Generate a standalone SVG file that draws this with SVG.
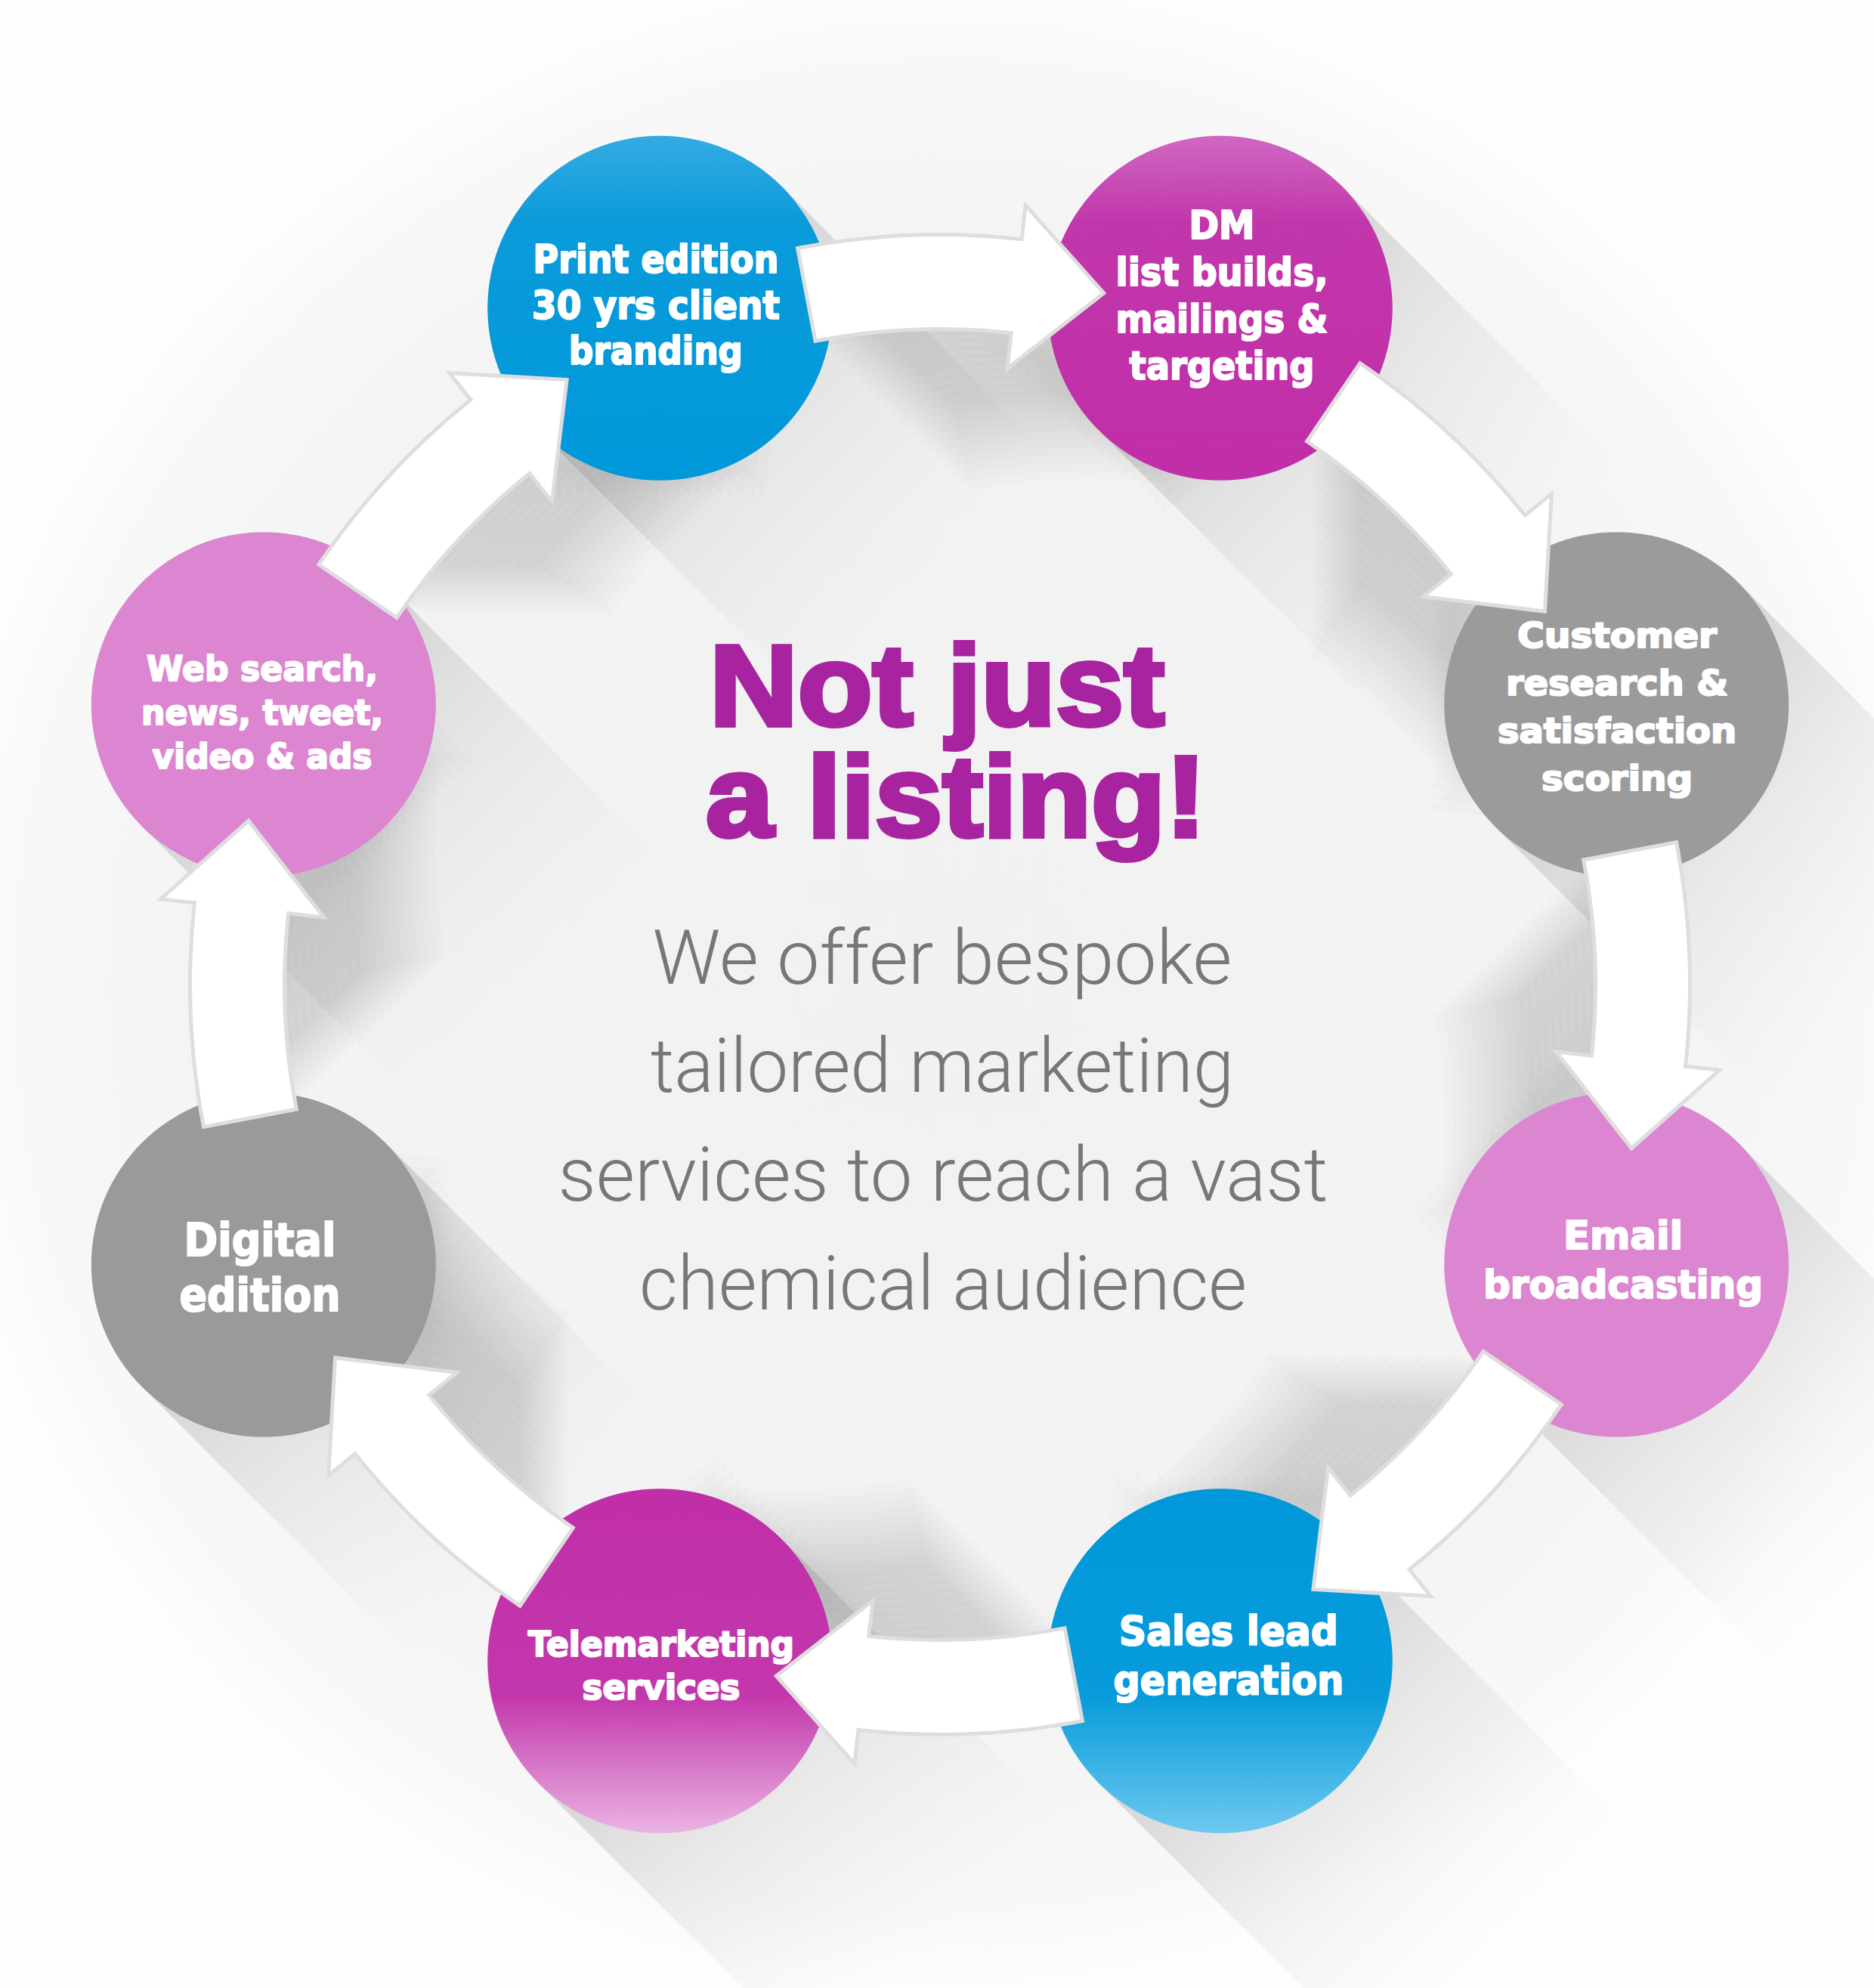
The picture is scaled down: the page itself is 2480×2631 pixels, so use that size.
<svg xmlns="http://www.w3.org/2000/svg" xmlns:xlink="http://www.w3.org/1999/xlink" width="2480" height="2631" viewBox="0 0 2480 2631">
<style>
.lbl{font-family:"DejaVu Sans","Liberation Sans",sans-serif;font-weight:bold;fill:#ffffff;stroke:#ffffff;stroke-width:2.2;stroke-linejoin:round;text-anchor:middle}
.title{font-family:"Liberation Sans","Arial",sans-serif;font-weight:bold;fill:#a8239f;stroke:#a8239f;stroke-width:6;stroke-linejoin:miter;text-anchor:middle;font-size:152px}
.body{font-family:Roboto,"Liberation Sans",sans-serif;font-weight:300;fill:#777777;text-anchor:middle;font-size:101px}
.arrow{fill:#ffffff;stroke:#dedede;stroke-width:10;paint-order:stroke;stroke-linejoin:miter}
.ash{fill:#6a6a6a;opacity:0.018}
.csh{fill:url(#shadowGrad)}
</style>
<defs>
<radialGradient id="bgGrad" cx="1244" cy="1303" r="1330" gradientUnits="userSpaceOnUse">
<stop offset="0" stop-color="#f1f1f1"/>
<stop offset="0.7" stop-color="#f3f3f3"/>
<stop offset="0.92" stop-color="#f8f8f8"/>
<stop offset="1" stop-color="#fdfdfd"/>
</radialGradient>
<linearGradient id="shadowGrad" x1="0" y1="0" x2="1" y2="0">
<stop offset="0" stop-color="#b9b9b9" stop-opacity="0.6"/>
<stop offset="0.5" stop-color="#cfcfcf" stop-opacity="0.3"/>
<stop offset="1" stop-color="#e0e0e0" stop-opacity="0"/>
</linearGradient>
<linearGradient id="blueTop" x1="0" y1="0" x2="0" y2="1">
<stop offset="0" stop-color="#34abe2"/>
<stop offset="0.25" stop-color="#0a9bda"/>
<stop offset="1" stop-color="#0098da"/>
</linearGradient>
<linearGradient id="blueBot" x1="0" y1="0" x2="0" y2="1">
<stop offset="0" stop-color="#0098da"/>
<stop offset="0.6" stop-color="#079bdb"/>
<stop offset="1" stop-color="#6ec8ef"/>
</linearGradient>
<linearGradient id="magTop" x1="0" y1="0" x2="0" y2="1">
<stop offset="0" stop-color="#cf68c2"/>
<stop offset="0.25" stop-color="#c236ab"/>
<stop offset="1" stop-color="#c02ea8"/>
</linearGradient>
<linearGradient id="magBot" x1="0" y1="0" x2="0" y2="1">
<stop offset="0" stop-color="#c02ea8"/>
<stop offset="0.6" stop-color="#c337ac"/>
<stop offset="1" stop-color="#eab4e3"/>
</linearGradient>
<path id="arrowPath" d="M -185.5 -972.5 A 990 990 0 0 1 110.4 -983.8 L 115.0 -1025.6 L 213.1 -915.5 L 92.1 -820.9 L 97.0 -864.6 A 870 870 0 0 0 -163.0 -854.6 Z"/>
<g id="arrowShadow">
<use xlink:href="#arrowPath" class="ash" transform="translate(10,10)"/>
<use xlink:href="#arrowPath" class="ash" transform="translate(20,20)"/>
<use xlink:href="#arrowPath" class="ash" transform="translate(30,30)"/>
<use xlink:href="#arrowPath" class="ash" transform="translate(40,40)"/>
<use xlink:href="#arrowPath" class="ash" transform="translate(50,50)"/>
<use xlink:href="#arrowPath" class="ash" transform="translate(60,60)"/>
<use xlink:href="#arrowPath" class="ash" transform="translate(70,70)"/>
<use xlink:href="#arrowPath" class="ash" transform="translate(80,80)"/>
<use xlink:href="#arrowPath" class="ash" transform="translate(90,90)"/>
<use xlink:href="#arrowPath" class="ash" transform="translate(100,100)"/>
<use xlink:href="#arrowPath" class="ash" transform="translate(110,110)"/>
<use xlink:href="#arrowPath" class="ash" transform="translate(120,120)"/>
<use xlink:href="#arrowPath" class="ash" transform="translate(130,130)"/>
<use xlink:href="#arrowPath" class="ash" transform="translate(140,140)"/>
<use xlink:href="#arrowPath" class="ash" transform="translate(150,150)"/>
<use xlink:href="#arrowPath" class="ash" transform="translate(160,160)"/>
<use xlink:href="#arrowPath" class="ash" transform="translate(170,170)"/>
<use xlink:href="#arrowPath" class="ash" transform="translate(180,180)"/>
<use xlink:href="#arrowPath" class="ash" transform="translate(190,190)"/>
<use xlink:href="#arrowPath" class="ash" transform="translate(200,200)"/>
</g>
</defs>

<rect x="0" y="0" width="2480" height="2631" fill="#fdfdfd"/>
<circle cx="1244" cy="1303" r="1330" fill="url(#bgGrad)"/>

<g id="circle-shadows">
<rect class="csh" x="0" y="-228" width="520" height="456" transform="translate(873.2,407.8) rotate(45)"/>
<rect class="csh" x="0" y="-228" width="520" height="456" transform="translate(1614.8,407.8) rotate(45)"/>
<rect class="csh" x="0" y="-228" width="520" height="456" transform="translate(2139.2,932.2) rotate(45)"/>
<rect class="csh" x="0" y="-228" width="520" height="456" transform="translate(2139.2,1673.8) rotate(45)"/>
<rect class="csh" x="0" y="-228" width="520" height="456" transform="translate(1614.8,2198.2) rotate(45)"/>
<rect class="csh" x="0" y="-228" width="520" height="456" transform="translate(873.2,2198.2) rotate(45)"/>
<rect class="csh" x="0" y="-228" width="520" height="456" transform="translate(348.8,1673.8) rotate(45)"/>
<rect class="csh" x="0" y="-228" width="520" height="456" transform="translate(348.8,932.2) rotate(45)"/>
</g>

<g id="arrow-shadows">
<use xlink:href="#arrowShadow" transform="translate(1244,1303)"/>
<use xlink:href="#arrowShadow" transform="translate(1244,1303) rotate(45)"/>
<use xlink:href="#arrowShadow" transform="translate(1244,1303) rotate(90)"/>
<use xlink:href="#arrowShadow" transform="translate(1244,1303) rotate(135)"/>
<use xlink:href="#arrowShadow" transform="translate(1244,1303) rotate(180)"/>
<use xlink:href="#arrowShadow" transform="translate(1244,1303) rotate(225)"/>
<use xlink:href="#arrowShadow" transform="translate(1244,1303) rotate(270)"/>
<use xlink:href="#arrowShadow" transform="translate(1244,1303) rotate(315)"/>
</g>

<g id="node-print"><circle cx="873.2" cy="407.8" r="228" fill="url(#blueTop)"/></g>
<g id="node-dm"><circle cx="1614.8" cy="407.8" r="228" fill="url(#magTop)"/></g>
<g id="node-customer"><circle cx="2139.2" cy="932.2" r="228" fill="#9c9b9c"/></g>
<g id="node-email"><circle cx="2139.2" cy="1673.8" r="228" fill="#dc85d0"/></g>
<g id="node-sales"><circle cx="1614.8" cy="2198.2" r="228" fill="url(#blueBot)"/></g>
<g id="node-tele"><circle cx="873.2" cy="2198.2" r="228" fill="url(#magBot)"/></g>
<g id="node-digital"><circle cx="348.8" cy="1673.8" r="228" fill="#9b9a9b"/></g>
<g id="node-web"><circle cx="348.8" cy="932.2" r="228" fill="#dc85d0"/></g>

<g id="connectors">
<use xlink:href="#arrowPath" class="arrow" transform="translate(1244,1303)"/>
<use xlink:href="#arrowPath" class="arrow" transform="translate(1244,1303) rotate(45)"/>
<use xlink:href="#arrowPath" class="arrow" transform="translate(1244,1303) rotate(90)"/>
<use xlink:href="#arrowPath" class="arrow" transform="translate(1244,1303) rotate(135)"/>
<use xlink:href="#arrowPath" class="arrow" transform="translate(1244,1303) rotate(180)"/>
<use xlink:href="#arrowPath" class="arrow" transform="translate(1244,1303) rotate(225)"/>
<use xlink:href="#arrowPath" class="arrow" transform="translate(1244,1303) rotate(270)"/>
<use xlink:href="#arrowPath" class="arrow" transform="translate(1244,1303) rotate(315)"/>
</g>

<g id="labels">
<g id="label-print" class="lbl" font-size="51">
<text x="868" y="361" textLength="325" lengthAdjust="spacingAndGlyphs">Print edition</text>
<text x="868" y="422" textLength="328" lengthAdjust="spacingAndGlyphs">30 yrs client</text>
<text x="868" y="482" textLength="230" lengthAdjust="spacingAndGlyphs">branding</text>
</g>
<g id="label-dm" class="lbl" font-size="51">
<text x="1617" y="316" textLength="87" lengthAdjust="spacingAndGlyphs">DM</text>
<text x="1617" y="378" textLength="281" lengthAdjust="spacingAndGlyphs">list builds,</text>
<text x="1617" y="440" textLength="281" lengthAdjust="spacingAndGlyphs">mailings &amp;</text>
<text x="1617" y="502" textLength="245" lengthAdjust="spacingAndGlyphs">targeting</text>
</g>
<g id="label-customer" class="lbl" font-size="47">
<text x="2140" y="857" textLength="264" lengthAdjust="spacingAndGlyphs">Customer</text>
<text x="2140" y="920" textLength="294" lengthAdjust="spacingAndGlyphs">research &amp;</text>
<text x="2140" y="983" textLength="316" lengthAdjust="spacingAndGlyphs">satisfaction</text>
<text x="2140" y="1046" textLength="200" lengthAdjust="spacingAndGlyphs">scoring</text>
</g>
<g id="label-email" class="lbl" font-size="52">
<text x="2148" y="1653" textLength="158" lengthAdjust="spacingAndGlyphs">Email</text>
<text x="2148" y="1718" textLength="370" lengthAdjust="spacingAndGlyphs">broadcasting</text>
</g>
<g id="label-sales" class="lbl" font-size="54">
<text x="1626" y="2177" textLength="290" lengthAdjust="spacingAndGlyphs">Sales lead</text>
<text x="1626" y="2242" textLength="305" lengthAdjust="spacingAndGlyphs">generation</text>
</g>
<g id="label-tele" class="lbl" font-size="46">
<text x="875" y="2192" textLength="352" lengthAdjust="spacingAndGlyphs">Telemarketing</text>
<text x="875" y="2249" textLength="209" lengthAdjust="spacingAndGlyphs">services</text>
</g>
<g id="label-digital" class="lbl" font-size="61">
<text x="344" y="1662" textLength="201" lengthAdjust="spacingAndGlyphs">Digital</text>
<text x="344" y="1735" textLength="213" lengthAdjust="spacingAndGlyphs">edition</text>
</g>
<g id="label-web" class="lbl" font-size="47">
<text x="347" y="901" textLength="306" lengthAdjust="spacingAndGlyphs">Web search,</text>
<text x="347" y="959" textLength="320" lengthAdjust="spacingAndGlyphs">news, tweet,</text>
<text x="347" y="1017" textLength="291" lengthAdjust="spacingAndGlyphs">video &amp; ads</text>
</g>
</g>

<g id="center-text">
<text class="title" x="1240" y="960" textLength="602" lengthAdjust="spacingAndGlyphs">Not just</text>
<text class="title" x="1265" y="1107" textLength="662" lengthAdjust="spacingAndGlyphs">a listing!</text>
<text class="body" x="1247" y="1302" textLength="767" lengthAdjust="spacingAndGlyphs">We offer bespoke</text>
<text class="body" x="1247" y="1445" textLength="772" lengthAdjust="spacingAndGlyphs">tailored marketing</text>
<text class="body" x="1248" y="1589" textLength="1019" lengthAdjust="spacingAndGlyphs">services to reach a vast</text>
<text class="body" x="1248" y="1733" textLength="804" lengthAdjust="spacingAndGlyphs">chemical audience</text>
</g>
</svg>
